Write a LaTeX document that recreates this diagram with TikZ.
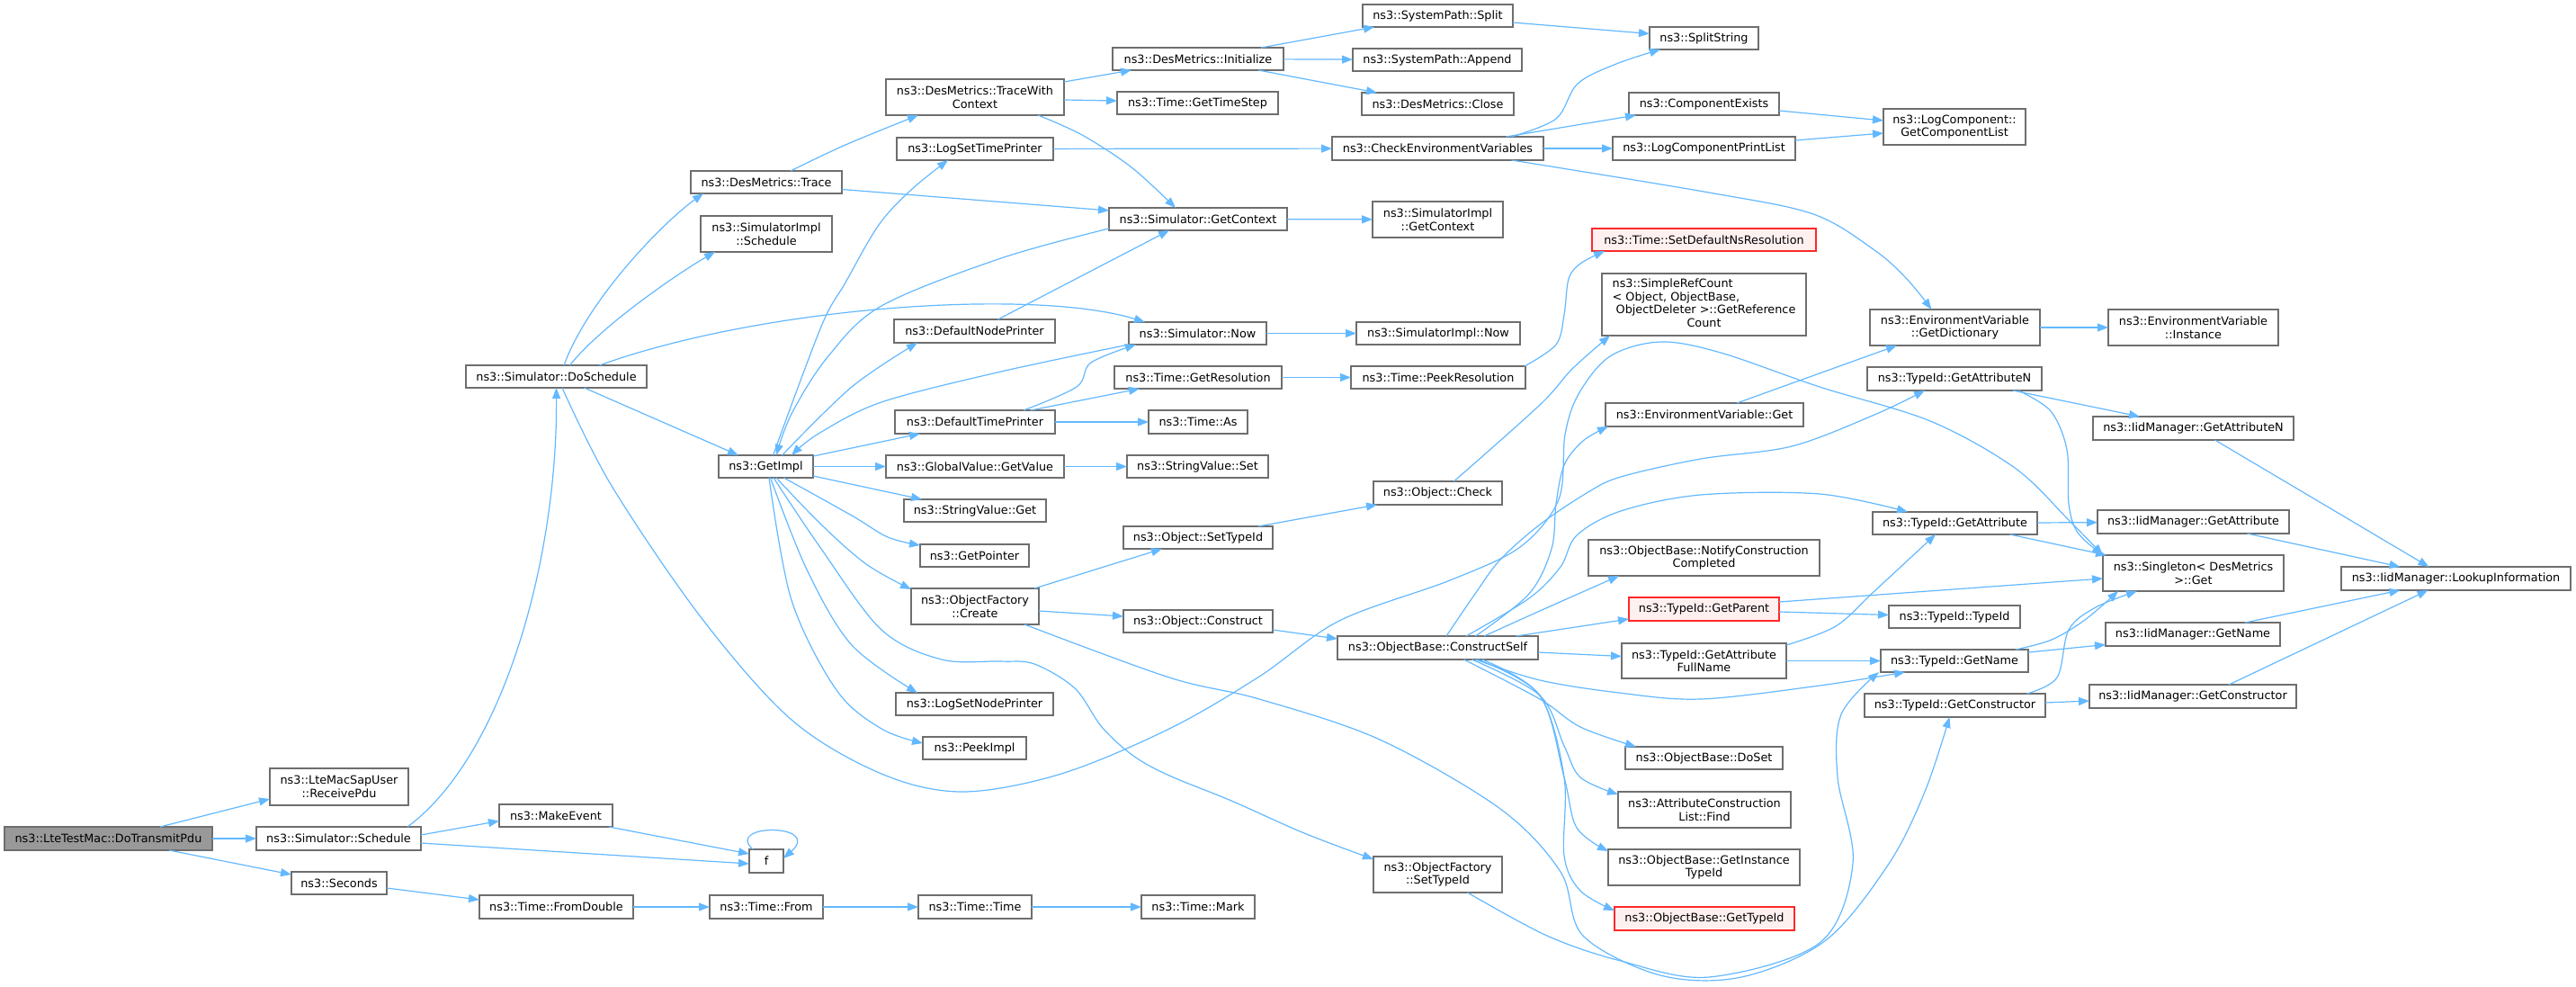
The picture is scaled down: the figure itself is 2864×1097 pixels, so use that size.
\documentclass[tikz,border=0pt]{standalone}
\usepackage{fontspec}
\setmainfont{DejaVu Sans}
\usetikzlibrary{arrows.meta}
\definecolor{edgec}{RGB}{99,184,255}
\definecolor{bordc}{RGB}{110,110,110}
\definecolor{rootf}{RGB}{153,153,153}
\definecolor{redf}{RGB}{255,240,240}
\definecolor{redb}{RGB}{255,40,40}
\newcommand\mynode[7][]{\node[box,#1,minimum width={(#5-#3)*1pt},minimum height={(#6-#4)*1pt}] (#2) at ({(#3+#5)/2},{(#4+#6)/2}) {#7};}
\begin{document}
\begin{tikzpicture}[x=1pt,y=-1pt,
 box/.style={draw=bordc,line width=1.3pt,fill=white,inner sep=0pt,outer sep=0pt,align=center,font=\fontsize{12.8}{14.5}\selectfont},
 rootn/.style={fill=rootf},
 redn/.style={draw=redb,fill=redf},
 cn/.style={draw=edgec,line width=1.2pt,-{Triangle[length=12pt,width=9pt]}},
 sm/.style={smooth,tension=0.55}]
\useasboundingbox (0,0) rectangle (2864,1097);
% nodes
\mynode[rootn]{dt}{5}{919}{236}{945}{ns3::LteTestMac::DoTransmitPdu}
\mynode{rp}{300}{854}{454}{895}{ns3::LteMacSapUser\\::ReceivePdu}
\mynode{ss}{285}{919}{468}{945}{ns3::Simulator::Schedule}
\mynode{sec}{324}{969}{430}{994}{ns3::Seconds}
\mynode{me}{555}{894}{681}{919}{ns3::MakeEvent}
\mynode{f}{833}{944}{871}{970}{f}
\mynode{fd}{533}{995}{704}{1021}{ns3::Time::FromDouble}
\mynode{tfrom}{789}{995}{915}{1021}{ns3::Time::From}
\mynode{tt}{1021}{995}{1147}{1021}{ns3::Time::Time}
\mynode{mark}{1269}{995}{1395}{1021}{ns3::Time::Mark}
\mynode{ds}{518}{406}{719}{431}{ns3::Simulator::DoSchedule}
\mynode{dmt}{768}{190}{936}{215}{ns3::DesMetrics::Trace}
\mynode{sis}{779}{240}{925}{280}{ns3::SimulatorImpl\\::Schedule}
\mynode{gi}{799}{506}{904}{531}{ns3::GetImpl}
\mynode{dmtwc}{985}{88}{1183}{128}{ns3::DesMetrics::TraceWith\\Context}
\mynode{lstp}{997}{153}{1171}{178}{ns3::LogSetTimePrinter}
\mynode{sgc}{1233}{231}{1431}{256}{ns3::Simulator::GetContext}
\mynode{dnp}{994}{355}{1173}{381}{ns3::DefaultNodePrinter}
\mynode{now}{1255}{358}{1408}{383}{ns3::Simulator::Now}
\mynode{gr}{1239}{407}{1425}{432}{ns3::Time::GetResolution}
\mynode{dtp}{995}{456}{1173}{482}{ns3::DefaultTimePrinter}
\mynode{tas}{1277}{456}{1387}{482}{ns3::Time::As}
\mynode{ggv}{985}{506}{1183}{531}{ns3::GlobalValue::GetValue}
\mynode{svs}{1253}{506}{1410}{531}{ns3::StringValue::Set}
\mynode{svg}{1005}{555}{1163}{580}{ns3::StringValue::Get}
\mynode{gp}{1023}{605}{1144}{630}{ns3::GetPointer}
\mynode{ofc}{1013}{654}{1155}{694}{ns3::ObjectFactory\\::Create}
\mynode{lsnp}{996}{770}{1171}{795}{ns3::LogSetNodePrinter}
\mynode{pi}{1026}{819}{1141}{844}{ns3::PeekImpl}
\mynode{ofs}{1527}{952}{1670}{992}{ns3::ObjectFactory\\::SetTypeId}
\mynode{init}{1237}{53}{1427}{78}{ns3::DesMetrics::Initialize}
\mynode{gts}{1242}{102}{1421}{127}{ns3::Time::GetTimeStep}
\mynode{spl}{1515}{5}{1682}{30}{ns3::SystemPath::Split}
\mynode{app}{1504}{54}{1692}{79}{ns3::SystemPath::Append}
\mynode{close}{1514}{103}{1683}{128}{ns3::DesMetrics::Close}
\mynode{ss2}{1834}{30}{1955}{55}{ns3::SplitString}
\mynode{cev}{1481}{152}{1716}{178}{ns3::CheckEnvironmentVariables}
\mynode{ce}{1811}{103}{1978}{128}{ns3::ComponentExists}
\mynode{lcpl}{1793}{152}{1996}{178}{ns3::LogComponentPrintList}
\mynode{gcl}{2094}{121}{2252}{161}{ns3::LogComponent::\\GetComponentList}
\mynode{sigc}{1526}{224}{1671}{264}{ns3::SimulatorImpl\\::GetContext}
\mynode[redn]{sdnr}{1770}{254}{2019}{279}{ns3::Time::SetDefaultNsResolution}
\mynode{src}{1781}{304}{2008}{373}{\begin{tabular}{@{}l@{}}ns3::SimpleRefCount\\< Object, ObjectBase,\\\ ObjectDeleter >::GetReference\\\multicolumn{1}{@{}c@{}}{Count}\end{tabular}}
\mynode{gd}{2079}{344}{2268}{384}{ns3::EnvironmentVariable\\::GetDictionary}
\mynode{evi}{2344}{344}{2533}{384}{ns3::EnvironmentVariable\\::Instance}
\mynode{sin}{1508}{358}{1690}{383}{ns3::SimulatorImpl::Now}
\mynode{pr}{1502}{407}{1696}{432}{ns3::Time::PeekResolution}
\mynode{evg}{1785}{448}{2005}{474}{ns3::EnvironmentVariable::Get}
\mynode{tgan}{2076}{408}{2270}{434}{ns3::TypeId::GetAttributeN}
\mynode{igan}{2327}{463}{2550}{489}{ns3::IidManager::GetAttributeN}
\mynode{oc}{1527}{535}{1670}{561}{ns3::Object::Check}
\mynode{ost}{1249}{585}{1415}{610}{ns3::Object::SetTypeId}
\mynode{ocn}{1249}{678}{1415}{703}{ns3::Object::Construct}
\mynode{cs}{1487}{707}{1710}{733}{ns3::ObjectBase::ConstructSelf}
\mynode{ncc}{1766}{600}{2023}{640}{ns3::ObjectBase::NotifyConstruction\\Completed}
\mynode[redn]{gpar}{1811}{664}{1978}{690}{ns3::TypeId::GetParent}
\mynode{gafn}{1803}{715}{1986}{754}{ns3::TypeId::GetAttribute\\FullName}
\mynode{doset}{1807}{830}{1982}{855}{ns3::ObjectBase::DoSet}
\mynode{acl}{1799}{880}{1991}{920}{ns3::AttributeConstruction\\List::Find}
\mynode{gitid}{1788}{944}{2001}{984}{ns3::ObjectBase::GetInstance\\TypeId}
\mynode[redn]{gtid}{1795}{1008}{1995}{1034}{ns3::ObjectBase::GetTypeId}
\mynode{tga}{2082}{569}{2265}{594}{ns3::TypeId::GetAttribute}
\mynode{iga}{2332}{567}{2545}{593}{ns3::IidManager::GetAttribute}
\mynode{sg}{2338}{617}{2539}{657}{ns3::Singleton< DesMetrics\\ >::Get}
\mynode{li}{2603}{630}{2858}{656}{ns3::IidManager::LookupInformation}
\mynode{tti}{2100}{673}{2246}{698}{ns3::TypeId::TypeId}
\mynode{ign}{2341}{692}{2535}{718}{ns3::IidManager::GetName}
\mynode{tgn}{2091}{722}{2255}{747}{ns3::TypeId::GetName}
\mynode{tgc}{2073}{771}{2274}{797}{ns3::TypeId::GetConstructor}
\mynode{igc}{2323}{761}{2553}{787}{ns3::IidManager::GetConstructor}
% edges from DoTransmitPdu
\draw[cn] ([xshift=-58]dt.north east) -- ([yshift=7]rp.south west);
\draw[cn] (dt) -- (ss);
\draw[cn] ([xshift=-48]dt.south east) -- ([yshift=-3]sec.north west);
% Simulator::Schedule
\draw[cn] ([xshift=-15]ss.north east) .. controls (560,840) and (620,620) .. (ds.south);
\draw[cn] ([yshift=4]ss.east) -- ([yshift=-6]me.west);
\draw[cn] ([yshift=-5]ss.east) -- ([yshift=-3]f.west);
\draw[cn] ([xshift=-4]me.south east) -- ([yshift=8]f.west);
\draw[cn] ([xshift=4]f.north west) .. controls (805,915) and (915,915) .. ([yshift=3]f.east);
\draw[cn] ([yshift=-5.5]sec.east) -- ([yshift=8]fd.west);
\draw[cn] (fd) -- (tfrom);
\draw[cn] (tfrom) -- (tt);
\draw[cn] (tt) -- (mark);
% DoSchedule
\draw[cn] ([xshift=8.5]ds.north) .. controls (655,330) and (740,245) .. ([xshift=14]dmt.south west);
\draw[cn] ([xshift=15]ds.north) .. controls (670,360) and (760,300) .. ([xshift=16]sis.south west);
\draw[cn] ([xshift=48]ds.north) .. controls (850,340) and (1150,320) .. ([xshift=18]now.north west);
\draw[cn] ([xshift=31]ds.south) -- ([xshift=22]gi.north west);
\draw[cn] plot[sm] coordinates {([xshift=6.5]ds.south) (680,540) (780,687) (880,800) (980,860) (1070,880) (1180,860) (1300,810) (1400,752) (1489,690) (1612,645) (1690,608) (1733,555) (1740,483) (1755,438) (1790,396) (1846,380) (1913,392) (2023,430) (2146,468) (2240,520) (2300,578) (sg.north west)};
% GetImpl
\draw[cn] plot[sm] coordinates {([xshift=8]gi.north) (913,363) (940,314) (977,250) (1013,211) ([xshift=-30]lstp.south)};
\draw[cn] plot[sm] coordinates {([yshift=2]sgc.south west) (1113,287) (980,340) (920,397) (880,460) ([xshift=11.5]gi.north)};
\draw[cn] plot[sm] coordinates {(now.south west) (1113,413) (980,447) (910,482) ([xshift=28.5]gi.north)};
\draw[cn] plot[sm] coordinates {([xshift=18]gi.north) (947,430) ([xshift=26]dnp.south west)};
\draw[cn] ([yshift=-1]gi.north east) -- ([xshift=28]dtp.south west);
\draw[cn] (gi) -- (ggv);
\draw[cn] ([yshift=2]gi.south east) -- ([xshift=20]svg.north west);
\draw[cn] plot[sm] coordinates {([xshift=20]gi.south) (947,573) (987,597) ([yshift=-1]gp.north west)};
\draw[cn] plot[sm] coordinates {([xshift=11.5]gi.south) (913,583) (963,627) ([yshift=-1]ofc.north west)};
\draw[cn] plot[sm] coordinates {([xshift=8.5]gi.south) (913,610) (980,700) (1047,733) (1113,735) (1150,738) (1195,765) (1225,808) (1260,840) (1300,862) (1369,890) (1450,926) ([yshift=-3]ofs.north west)};
\draw[cn] plot[sm] coordinates {([xshift=5]gi.south) (897,633) (947,717) ([xshift=24]lsnp.north west)};
\draw[cn] plot[sm] coordinates {([xshift=3.5]gi.south) (880,667) (930,767) (980,810) ([yshift=-7]pi.north west)};
% DesMetrics
\draw[cn] plot[sm] coordinates {([xshift=27]dmt.north) (940,161) ([xshift=36]dmtwc.south west)};
\draw[cn] ([yshift=-8]dmt.east) -- ([yshift=9.5]sgc.west);
\draw[cn] ([yshift=17]dmtwc.east) -- ([xshift=21]init.south west);
\draw[cn] ([yshift=-3]dmtwc.east) -- ([yshift=2.5]gts.west);
\draw[cn] plot[sm] coordinates {([xshift=70]dmtwc.south) (1203,150) (1258,186) ([xshift=-25]sgc.north)};
\draw[cn] ([xshift=-25]init.north east) -- ([xshift=13]spl.south west);
\draw[cn] (init) -- (app);
\draw[cn] ([xshift=-28]init.south east) -- ([xshift=17]close.north west);
\draw[cn] ([yshift=-7.5]spl.east) -- ([yshift=5]ss2.west);
% Log / environment
\draw[cn] (lstp) -- (cev);
\draw[cn] plot[sm] coordinates {([xshift=82]cev.north) (1730,132) (1754,93) (1797,71) ([xshift=12]ss2.south west)};
\draw[cn] ([xshift=76]cev.north) -- ([xshift=8]ce.south west);
\draw[cn] (cev) -- (lcpl);
\draw[cn] plot[sm] coordinates {([xshift=82]cev.south) (1900,214) (2016,238) (2084,278) (2120,310) ([xshift=-26]gd.north)};
\draw[cn] ([yshift=-7.5]ce.east) -- ([yshift=7]gcl.west);
\draw[cn] ([yshift=9]lcpl.east) -- ([yshift=-7]gcl.west);
\draw[cn] (sgc) -- (sigc);
\draw[cn] (now) -- (sin);
\draw[cn] (gr) -- (pr);
\draw[cn] plot[sm] coordinates {([xshift=-1]pr.north east) (1730,383) (1739,350) (1744,310) (1757,293) ([xshift=14]sdnr.south west)};
\draw[cn] (ggv) -- (svs);
\draw[cn] plot[sm] coordinates {([xshift=18]oc.north) (1712,450) (1748,410) ([xshift=9]src.south west)};
% printers
\draw[cn] plot[sm] coordinates {([xshift=54]dtp.north) (1197,430) (1213,403) ([xshift=8]now.south west)};
\draw[cn] ([xshift=62]dtp.north) -- ([xshift=28]gr.south west);
\draw[cn] (dtp) -- (tas);
\draw[cn] ([xshift=26]dnp.north) -- ([xshift=-32]sgc.south);
% ObjectFactory
\draw[cn] ([xshift=-5]ofc.north east) -- ([xshift=43]ost.south west);
\draw[cn] ([yshift=-5]ofc.east) -- ([yshift=5.5]ocn.west);
\draw[cn] plot[sm] coordinates {([xshift=55]ofc.south) (1300,753) (1400,777) (1534,822) (1668,899) (1735,969) (1760,1040) (1846,1084) (1936,1086) (2030,1045) (2100,960) (2140,880) ([xshift=-6]tgc.south)};
\draw[cn] ([xshift=-16]ost.north east) -- ([xshift=4]oc.south west);
\draw[cn] ([yshift=-9.5]ocn.east) -- ([yshift=-3]cs.north west);
\draw[cn] plot[sm] coordinates {([xshift=33]ofs.south) (1720,1040) (1802,1068) (1900,1086) (2023,1048) (2060,960) (2043,864) (2047,794) ([xshift=-2]tgn.south west)};
% ConstructSelf
\draw[cn] plot[sm] coordinates {([xshift=9.5]cs.north) (1640,660) (1668,622) (1712,583) (1764,548) (1802,530) (1891,510) (1992,496) (2084,461) ([xshift=-33]tgan.south)};
\draw[cn] plot[sm] coordinates {([xshift=31.5]cs.north) (1700,665) (1735,630) (1753,595) (1802,568) (1891,550) (2023,549) ([xshift=39]tga.north west)};
\draw[cn] plot[sm] coordinates {([xshift=42]cs.north) (1700,660) (1725,610) (1730,560) (1739,517) (1760,490) ([xshift=3]evg.south west)};
\draw[cn] plot[sm] coordinates {([xshift=51.5]cs.north) (1712,679) ([xshift=34]ncc.south west)};
\draw[cn] ([xshift=87]cs.north) -- ([yshift=2]gpar.south west);
\draw[cn] ([yshift=-5]cs.east) -- ([yshift=5]gafn.west);
\draw[cn] plot[sm] coordinates {([xshift=42]cs.south) (1712,756) (1800,770) (1891,777) (2023,762) ([xshift=27]tgn.south west)};
\draw[cn] plot[sm] coordinates {([xshift=29]cs.south) (1712,777) (1757,808) ([xshift=12]doset.north west)};
\draw[cn] plot[sm] coordinates {([xshift=38]cs.south) (1712,773) (1739,829) (1757,864) ([yshift=-3]acl.north west)};
\draw[cn] plot[sm] coordinates {([xshift=44.5]cs.south) (1712,773) (1739,864) (1753,920) ([yshift=-2]gitid.north west)};
\draw[cn] plot[sm] coordinates {([xshift=49.5]cs.south) (1712,773) (1739,864) (1739,951) (1757,990) ([yshift=-4]gtid.north west)};
% right side
\draw[cn] ([xshift=36]evg.north) -- ([xshift=30]gd.south west);
\draw[cn] (gd) -- (evi);
\draw[cn] ([xshift=65]tgan.south) -- ([xshift=52]igan.north west);
\draw[cn] plot[sm] coordinates {([xshift=71]tgan.south) (2280,457) (2298,500) (2300,560) (2310,592) (sg.north west)};
\draw[cn] ([xshift=24]igan.south) -- ([xshift=-30]li.north);
\draw[cn] (tga) -- (iga);
\draw[cn] ([xshift=61]tga.south) -- ([xshift=4]sg.north west);
\draw[cn] ([xshift=60]iga.south) -- ([xshift=-62]li.north);
\draw[cn] ([yshift=8]gpar.east) -- ([yshift=-6]sg.west);
\draw[cn] ([yshift=-3]gpar.east) -- ([yshift=2]tti.west);
\draw[cn] plot[sm] coordinates {([yshift=-2]gafn.north east) (2041,696) (2084,657) ([xshift=-21.5]tga.south)};
\draw[cn] (gafn) -- (tgn);
\draw[cn] plot[sm] coordinates {([xshift=68]tgn.north) (2281,711) (2318,689) ([xshift=17]sg.south west)};
\draw[cn] ([yshift=9.5]tgn.east) -- ([yshift=-11.5]ign.west);
\draw[cn] ([xshift=58]ign.north) -- ([xshift=-62]li.south);
\draw[cn] plot[sm] coordinates {([xshift=80]tgc.north) (2287,753) (2300,700) (2330,675) ([xshift=38]sg.south west)};
\draw[cn] ([yshift=3]tgc.east) -- ([yshift=-5]igc.west);
\draw[cn] ([xshift=40]igc.north) -- ([xshift=-31]li.south);
\end{tikzpicture}
\end{document}
